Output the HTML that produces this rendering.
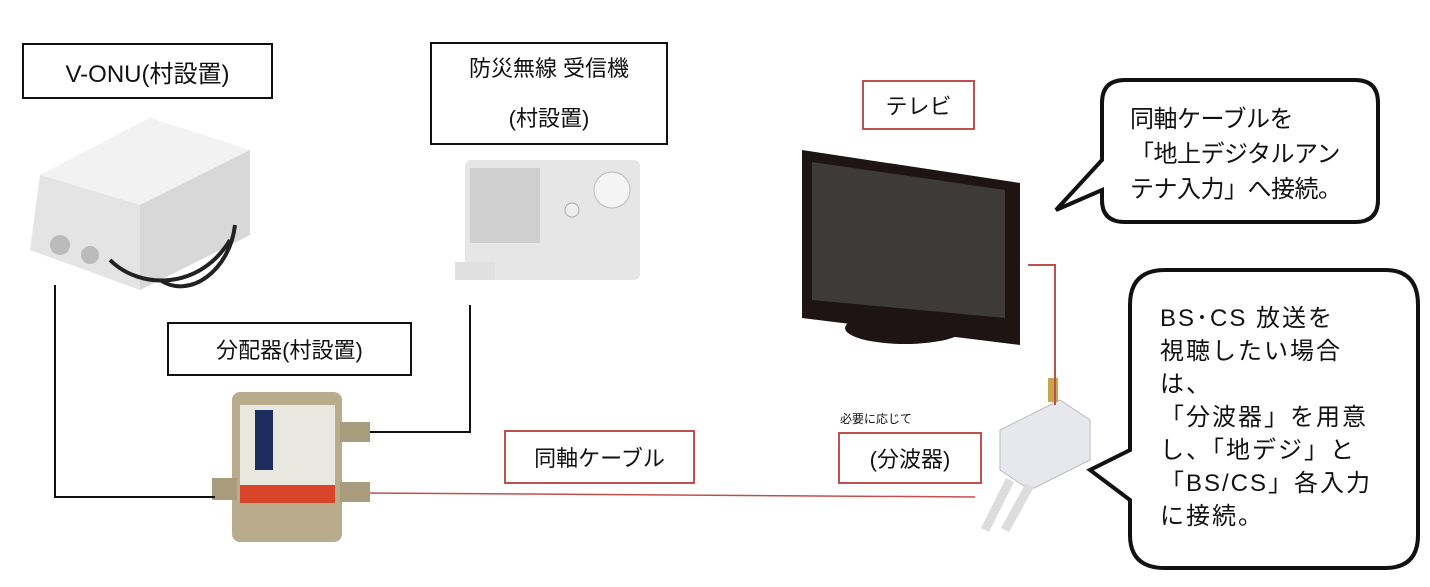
<!DOCTYPE html>
<html><head><meta charset="utf-8"><style>
body{margin:0;width:1430px;height:587px;background:#fff;position:relative;overflow:hidden;font-family:"Liberation Sans","Noto Sans CJK JP",sans-serif;color:#111}
.b{position:absolute;box-sizing:border-box;display:flex;align-items:center;justify-content:center;text-align:center}
.k{border:2px solid #111}.r{border:2px solid #c0504d}
svg{position:absolute;left:0;top:0}
</style></head><body>
<svg width="1430" height="587">
<polygon points="40,175 150,118 250,150 250,235 140,290 30,250" fill="#e4e4e4"/>
<polygon points="40,175 150,118 250,150 140,205" fill="#f2f2f2"/>
<polygon points="140,205 250,150 250,235 140,290" fill="#d8d8d8"/>
<circle cx="60" cy="245" r="10" fill="#bbb"/><circle cx="90" cy="255" r="9" fill="#bbb"/>
<path d="M110,260 C140,290 200,290 230,240" stroke="#222" stroke-width="4" fill="none"/>
<path d="M160,280 C190,300 230,270 235,225" stroke="#222" stroke-width="4" fill="none"/>
<rect x="465" y="160" width="175" height="120" rx="6" fill="#e6e6e6"/>
<rect x="470" y="168" width="70" height="75" fill="#cfcfcf"/>
<circle cx="612" cy="190" r="18" fill="#f4f4f4" stroke="#bbb"/>
<circle cx="572" cy="210" r="7" fill="#eee" stroke="#aaa"/>
<rect x="455" y="262" width="40" height="18" fill="#e0e0e0"/>
<rect x="232" y="392" width="110" height="150" rx="8" fill="#b8ac8c"/>
<rect x="240" y="405" width="95" height="80" fill="#e8e8e0"/>
<rect x="240" y="485" width="95" height="18" fill="#d9452b"/>
<rect x="255" y="410" width="18" height="60" fill="#1d2e5e"/>
<rect x="212" y="478" width="25" height="22" fill="#a89c7c"/>
<rect x="340" y="422" width="30" height="20" fill="#a89c7c"/>
<rect x="340" y="482" width="30" height="20" fill="#a89c7c"/>
<polygon points="802,150 1020,183 1020,345 802,318" fill="#1e1414"/>
<polygon points="812,162 1005,190 1005,318 812,300" fill="#3e3a3a"/>
<ellipse cx="905" cy="328" rx="60" ry="16" fill="#1e1414"/>
<polygon points="1000,430 1060,400 1090,420 1090,460 1030,490 1000,470" fill="#e6e8ee" stroke="#bbb"/>
<rect x="1048" y="378" width="10" height="24" fill="#c9a64a"/>
<path d="M1010,480 L985,530 M1030,485 L1005,530" stroke="#ddd" stroke-width="9"/>
<polyline points="55,285 55,497 215,497" fill="none" stroke="#111" stroke-width="2"/>
<polyline points="470,305 470,432 370,432" fill="none" stroke="#111" stroke-width="2"/>
<line x1="370" y1="493" x2="975" y2="497" stroke="#c0504d" stroke-width="1.5"/>
<polyline points="1028,265 1055,265 1055,405" fill="none" stroke="#c0504d" stroke-width="2"/>
<path d="M1125,80 H1355 Q1378,80 1378,103 V200 Q1378,222 1355,222 H1125 Q1102,222 1102,200 V190 L1056,210 L1102,160 V103 Q1102,80 1125,80 Z" fill="#fff" stroke="#111" stroke-width="4"/>
<path d="M1165,270 H1385 Q1418,270 1418,305 V535 Q1418,568 1385,568 H1165 Q1130,568 1130,535 V500 L1090,470 L1130,450 V305 Q1130,270 1165,270 Z" fill="#fff" stroke="#111" stroke-width="4"/>
</svg>
<div class="b k" style="left:22px;top:43px;width:251px;height:56px;font-size:24px">V-ONU(村設置)</div>
<div class="b k" style="left:430px;top:42px;width:238px;height:103px;font-size:22px;line-height:50px;flex-direction:column">防災無線 受信機<br>(村設置)</div>
<div class="b k" style="left:167px;top:322px;width:245px;height:54px;font-size:22px">分配器(村設置)</div>
<div class="b r" style="left:504px;top:430px;width:191px;height:54px;font-size:22px">同軸ケーブル</div>
<div class="b r" style="left:862px;top:80px;width:113px;height:50px;font-size:22px">テレビ</div>
<div class="b r" style="left:838px;top:432px;width:144px;height:52px;font-size:22px">(分波器)</div>
<div style="position:absolute;left:840px;top:410px;font-size:12px">必要に応じて</div>
<div style="position:absolute;left:1130px;top:102px;font-size:24px;line-height:35px;letter-spacing:-0.5px">同軸ケーブルを<br>「地上デジタルアン<br>テナ入力」へ接続。</div>
<div style="position:absolute;left:1160px;top:302px;font-size:24px;line-height:33px;letter-spacing:2px">BS･CS 放送を<br>視聴したい場合<br>は、<br>「分波器」を用意<br>し、「地デジ」と<br>「BS/CS」各入力<br>に接続。</div>
</body></html>
